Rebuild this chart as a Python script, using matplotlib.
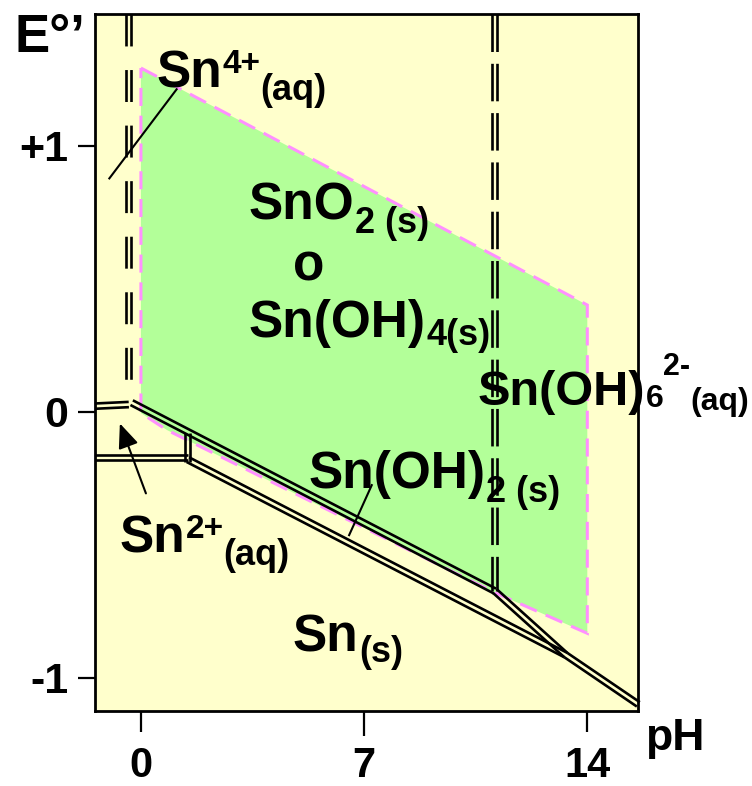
import numpy as np
import matplotlib
matplotlib.use("Agg")
import matplotlib.pyplot as plt
import matplotlib.transforms as mtransforms

plt.rcParams["font.family"] = ["Liberation Sans", "DejaVu Sans"]
plt.rcParams["lines.scale_dashes"] = False

# ---- boundary lines (pH, E) ----
SN4_SN2_PH = [-1.44, -0.38]
SN4_SN2_E = [0.021, 0.027]
SN2_SN_PH = [-1.44, 1.47]
SN2_SN_E = [-0.171, -0.171]
SN2_SNOH2_PH = [1.47, 1.47]
SN2_SNOH2_E = [-0.08, -0.19]
SNO2_SNOH2_PH = [-0.29, 11.1]
SNO2_SNOH2_E = [0.034, -0.674]
SNOH2_SN_PH = [1.47, 13.33, 15.6]
SNOH2_SN_E = [-0.18, -0.915, -1.10]
SNOH6_SN_PH = [11.1, 13.33]
SNOH6_SN_E = [-0.674, -0.915]
SN4_SNO2_PH = [-0.4, -0.4]
SN4_SNO2_E = [1.495, 0.035]
SNO2_SNOH6_PH = [11.1, 11.1]
SNO2_SNOH6_E = [1.495, -0.674]

# green SnO2 / Sn(OH)4 field
GREEN_PH = [0, 14, 14, 11.1, 0.82, 0]
GREEN_E = [1.292, 0.401, -0.833, -0.68, -0.069, -0.005]

# leader lines
SN4_LEADER_PH = [1.12, -0.99]
SN4_LEADER_E = [1.212, 0.877]
SNOH2_LEADER_PH = [7.24, 6.53]
SNOH2_LEADER_E = [-0.276, -0.464]
SN2_ARROW_TAIL = (0.157, -0.307)
SN2_ARROW_TIP = (-0.66, -0.044)

X_TICKS = [0, 7, 14]
X_TICKLABELS = ["0", "7", "14"]
Y_TICKS = [-1, 0, 1]
Y_TICKLABELS = ["-1", "0", "+1"]

BG_COLOR = "#FFFFCC"
GREEN = "#B3FF99"
PINK = "#FF90FF"

W, H = 752, 786
fig = plt.figure(figsize=(W / 100, H / 100), dpi=100)
ax = fig.add_axes([95 / W, 1 - 711 / H, (638 - 95) / W, (711 - 14) / H])
ax.set_xlim(-1.44, 15.59)
ax.set_ylim(-1.125, 1.495)
ax.set_facecolor(BG_COLOR)
for sp in ax.spines.values():
    sp.set_linewidth(2)

ax.set_xticks(X_TICKS)
ax.set_xticklabels(X_TICKLABELS, fontsize=30, fontweight="bold")
ax.set_yticks(Y_TICKS)
ax.set_yticklabels(Y_TICKLABELS, fontsize=31, fontweight="bold")
ax.tick_params(axis="x", direction="out", length=15, width=1.6, pad=10)
ax.tick_params(axis="y", direction="out", length=12, width=1.6, pad=7)
# the middle tick is drawn a little longer in the original
ax.xaxis.get_major_ticks()[1].tick1line.set_markersize(18)

ax.fill(GREEN_PH, GREEN_E, facecolor=GREEN, edgecolor=PINK, lw=2.2,
        linestyle=(0, (13, 7)), zorder=1)


def double_line(xs, ys, sep=1.9, lw=1.9, ls="-"):
    pts = ax.transData.transform(np.column_stack([xs, ys]))
    for i in range(len(xs) - 1):
        d = pts[i + 1] - pts[i]
        n = np.array([-d[1], d[0]]) / np.hypot(*d)
        for s in (-1, 1):
            tr = mtransforms.offset_copy(ax.transData, fig=fig,
                                         x=s * sep * n[0], y=s * sep * n[1],
                                         units="points")
            ax.plot(xs[i:i + 2], ys[i:i + 2], color="black", lw=lw,
                    linestyle=ls, transform=tr, solid_capstyle="butt",
                    dash_capstyle="butt", zorder=3, clip_on=False)


double_line(SN4_SN2_PH, SN4_SN2_E)
double_line(SN2_SN_PH, SN2_SN_E)
double_line(SN2_SNOH2_PH, SN2_SNOH2_E)
double_line(SNO2_SNOH2_PH, SNO2_SNOH2_E)
double_line(SNOH2_SN_PH, SNOH2_SN_E)
double_line(SNOH6_SN_PH, SNOH6_SN_E)
double_line(SN4_SNO2_PH, SN4_SNO2_E, ls=(0, (23, 17)))
double_line(SNO2_SNOH6_PH, SNO2_SNOH6_E, ls=(0, (27, 8.5)))

ax.plot(SN4_LEADER_PH, SN4_LEADER_E, color="black", lw=1.5, zorder=4)
ax.plot(SNOH2_LEADER_PH, SNOH2_LEADER_E, color="black", lw=1.5, zorder=4)
ax.annotate("", xy=SN2_ARROW_TIP, xytext=SN2_ARROW_TAIL,
            arrowprops=dict(arrowstyle="-|>,head_length=0.6,head_width=0.25",
                            color="black", lw=1.5, mutation_scale=25,
                            shrinkA=0, shrinkB=0), zorder=4)

renderer = fig.canvas.get_renderer()


def chem(x, y, pieces):
    # pieces: (text, fontsize, rise in points), laid out left to right
    dx = 0.0
    for txt, size, rise in pieces:
        t = ax.annotate(txt, (x, y), xytext=(dx, rise), textcoords="offset points",
                        fontsize=size, fontweight="bold", ha="left", va="baseline",
                        annotation_clip=False, zorder=5)
        dx += t.get_window_extent(renderer).width * 72 / fig.dpi


chem(0.50, 1.217, [("Sn", 37, 0), ("4+", 24, 10.8), ("(aq)", 26, -8.6)])
chem(3.39, 0.721, [("SnO", 37, 0), ("2 (s)", 26, -9.4)])
ax.text(5.27, 0.495, "o", fontsize=37, fontweight="bold", ha="center",
        va="baseline", zorder=5)
chem(3.39, 0.281, [("Sn(OH)", 37, 0), ("4(s)", 26, -5.8)])
chem(10.57, 0.025, [("Sn(OH)", 35, 0), ("6", 23, -1.5), ("2-", 22, 21.6),
                    ("(aq)", 23, -3.6)])
chem(5.27, -0.287, [("Sn(OH)", 37, 0), ("2 (s)", 26, -10)])
chem(-0.66, -0.531, [("Sn", 37, 0), ("2+", 24, 10.8), ("(aq)", 26, -8.6)])
chem(4.77, -0.903, [("Sn", 37, 0), ("(s)", 26, -7.2)])

fig.text(15 / W, 1 - 52 / H, "E°’", fontsize=38, fontweight="bold",
         ha="left", va="baseline")
fig.text(645 / W, 1 - 750 / H, "pH", fontsize=32, fontweight="bold",
         ha="left", va="baseline")

fig.savefig("out.png", dpi=100)
